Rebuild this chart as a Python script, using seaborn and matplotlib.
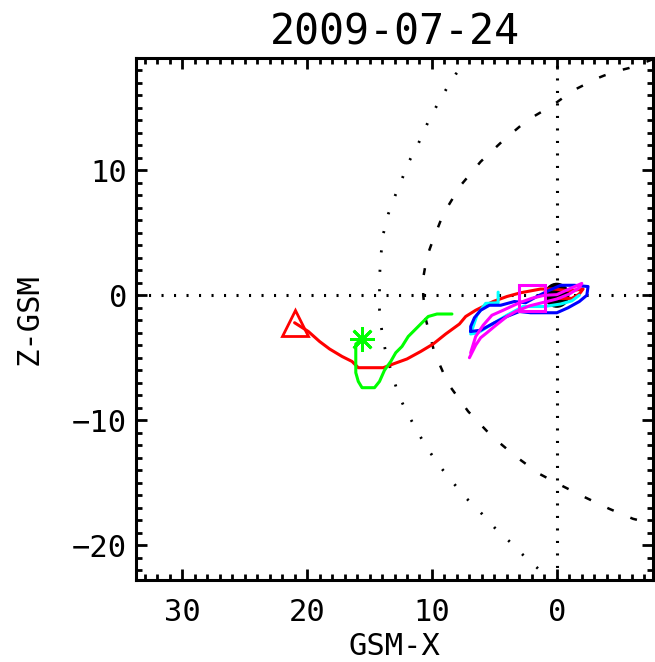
import matplotlib
matplotlib.use("Agg")
import matplotlib.pyplot as plt
from matplotlib.patches import Circle
import seaborn as sns

# orbit traces, GSM X and Z (Re)
red_x = [21.0, 19.9, 19.0, 18.2, 17.2, 16.4, 15.9, 13.9, 13.1, 12.0, 10.9, 9.9, 8.9, 7.8,
         7.3, 6.5, 5.1, 4.0, 2.9, 1.3, 0.2, -1.0, -2.1, -1.8, -1.2, -0.1]
red_z = [-2.2, -2.9, -3.7, -4.3, -4.9, -5.3, -5.8, -5.8, -5.5, -5.1, -4.5, -3.9, -3.1, -2.3,
         -1.7, -1.2, -0.5, -0.1, 0.2, 0.5, 0.5, 0.35, 0.5, 0.1, -0.25, -0.25]

green_x = [15.6, 16.1, 16.1, 15.9, 15.6, 14.6, 14.2, 13.8, 13.3, 12.9, 12.4, 11.9, 11.3,
           10.8, 10.3, 9.6, 8.4]
green_z = [-3.5, -3.9, -6.2, -6.9, -7.4, -7.4, -6.9, -6.0, -5.3, -4.6, -4.1, -3.3, -2.7,
           -2.2, -1.7, -1.5, -1.5]

blue_x = [6.9, 6.1, 5.0, 4.0, 3.0, 2.1, 0.0, -0.9, -1.8, -2.4, -2.5, -1.4, -0.3, 0.6, 1.6,
          2.5, 3.4, 4.5, 5.4, 6.1, 6.6, 6.9, 6.9]
blue_z = [-2.9, -2.8, -2.2, -1.7, -1.3, -1.4, -1.4, -1.0, -0.5, 0.0, 0.7, 0.8, 0.8, 0.4, -0.1,
          -0.6, -0.5, -0.8, -0.8, -1.2, -1.8, -2.5, -2.9]

cyan_x = [4.7, 4.7, 5.7, 6.4, 6.9, 6.3, 5.0, 4.0, 2.7, 1.0, -0.3, -1.2, -1.8]
cyan_z = [0.25, -0.6, -0.65, -1.6, -3.1, -3.0, -2.2, -1.6, -0.9, -0.9, -0.7, -0.45, 0.0]

magenta_x = [7.0, 6.5, 6.1, 5.6, 5.0, 4.5, 4.0, 3.3, 2.2, 1.0, 0.0, -1.0, -1.8, -2.0, -1.2,
             0.0, 1.0, 2.0, 3.0, 4.3, 5.2, 5.9, 6.5, 6.9]
magenta_z = [-5.0, -4.0, -3.4, -3.0, -2.5, -2.1, -1.7, -1.3, -0.85, -0.55, -0.3, 0.1, 0.6, 0.95,
             0.6, 0.05, 0.0, -0.24, -0.6, -1.2, -1.6, -2.4, -3.3, -4.6]
magenta_mark = (1.95, -0.24)

# bow shock (dotted) and magnetopause (dashed)
bs_x = [7.0, 8.1, 8.8, 9.5, 10.3, 11.2, 11.9, 12.4, 12.9, 13.5, 13.9, 14.1, 14.2, 14.2, 14.2,
        14.0, 13.7, 13.2, 12.7, 12.2, 11.5, 10.6, 9.6, 8.4, 7.3, 6.0, 4.9, 3.7, 2.7, 1.6, 0.5]
bs_z = [19.0, 17.7, 16.6, 15.4, 13.9, 11.9, 10.6, 9.3, 8.1, 6.5, 4.9, 3.1, 1.4, 0.0, -1.2,
        -3.0, -4.6, -6.3, -7.9, -9.0, -10.3, -11.9, -13.4, -14.9, -16.2, -17.5, -18.7, -19.8,
        -20.8, -21.8, -22.8]

mp_x = [-7.7, -6.9, -5.8, -5.0, -3.8, -3.3, -1.3, 0.35, 2.4, 4.4, 6.1, 7.7, 9.1, 10.0, 10.4,
        10.7, 10.7, 10.5, 9.8, 8.7, 7.1, 5.2, 3.3, 1.4, -0.5, -2.3, -4.2, -6.1, -7.7]
mp_z = [18.9, 18.6, 18.2, 18.0, 17.6, 17.4, 16.4, 15.2, 14.0, 12.3, 10.7, 8.8, 6.5, 4.2, 3.1,
        1.4, 0.0, -1.9, -4.6, -7.1, -9.3, -11.3, -12.9, -14.3, -15.3, -16.2, -17.1, -17.9, -18.3]

x_ticks = [30, 20, 10, 0]
z_ticks = [10, 0, -10, -20]

sns.set_style("white")
plt.rcParams['font.family'] = ['DejaVu Sans Mono', 'DejaVu Sans']
plt.rcParams['lines.scale_dashes'] = False
plt.rcParams['text.color'] = 'black'
plt.rcParams['axes.labelcolor'] = 'black'
plt.rcParams['xtick.color'] = 'black'
plt.rcParams['ytick.color'] = 'black'

fig = plt.figure(figsize=(6.55, 6.62), dpi=100)
ax = fig.add_axes([136 / 655, 1 - 580 / 662, 517 / 655, 522 / 662])

# reference lines
ax.axhline(0, color='black', lw=2.2, linestyle=(0, (1.5, 7.5)), zorder=1)
ax.axvline(0, color='black', lw=2.2, linestyle=(0, (1.5, 7.5)), zorder=1)
sns.lineplot(x=bs_x, y=bs_z, sort=False, estimator=None, color='black', lw=2.0,
             linestyle=(0, (1.5, 12.5)), ax=ax)
sns.lineplot(x=mp_x, y=mp_z, sort=False, estimator=None, color='black', lw=1.8,
             linestyle=(0, (5, 13)), ax=ax)

ax.add_patch(Circle((0, 0), 0.95, color='black', zorder=2))

trace_kw = dict(sort=False, estimator=None, lw=2.2, ax=ax)
sns.lineplot(x=red_x, y=red_z, color='#ff0000', **trace_kw)
sns.lineplot(x=green_x, y=green_z, color='#00ff00', **trace_kw)
sns.lineplot(x=cyan_x, y=cyan_z, color='#00ffff', **trace_kw)
sns.lineplot(x=blue_x, y=blue_z, color='#0000ff', **trace_kw)
sns.lineplot(x=magenta_x, y=magenta_z, color='#ff00ff', **trace_kw)

# start markers
ax.plot(red_x[0], red_z[0], marker='^', ms=18.5, mfc='none', mec='#ff0000', mew=2.0)
ax.plot(green_x[0], green_z[0], marker=(8, 2, 0), ms=18, mec='#00ff00', mew=2.0)
ax.plot(magenta_mark[0], magenta_mark[1], marker='s', ms=19, mfc='none', mec='#ff00ff', mew=2.2)

ax.set_xlim(33.7, -7.7)
ax.set_ylim(-22.8, 19.0)
ax.set_xticks(x_ticks)
ax.set_yticks(z_ticks)
ax.set_xticks(range(-7, 34), minor=True)
ax.set_yticks(range(-22, 19), minor=True)
ax.tick_params(which='both', direction='in', top=True, right=True, bottom=True, left=True,
               color='black', width=2.0)
ax.tick_params(which='major', length=8, labelsize=22, labelcolor='black')
ax.tick_params(which='minor', length=4.5)
ax.tick_params(axis='x', which='major', pad=13)
ax.tick_params(axis='y', which='major', pad=6.5)
for sp in ax.spines.values():
    sp.set_linewidth(2.2)
    sp.set_color('black')

ax.set_xlabel("GSM-X", fontsize=22, color='black')
ax.set_ylabel("Z-GSM", fontsize=22, color='black')
ax.xaxis.set_label_coords(0.5, -0.1)
ax.yaxis.set_label_coords(-0.178, 0.5)
ax.set_title("2009-07-24", fontsize=30, pad=9.5, color='black')

fig.savefig("out.png", dpi=100)
